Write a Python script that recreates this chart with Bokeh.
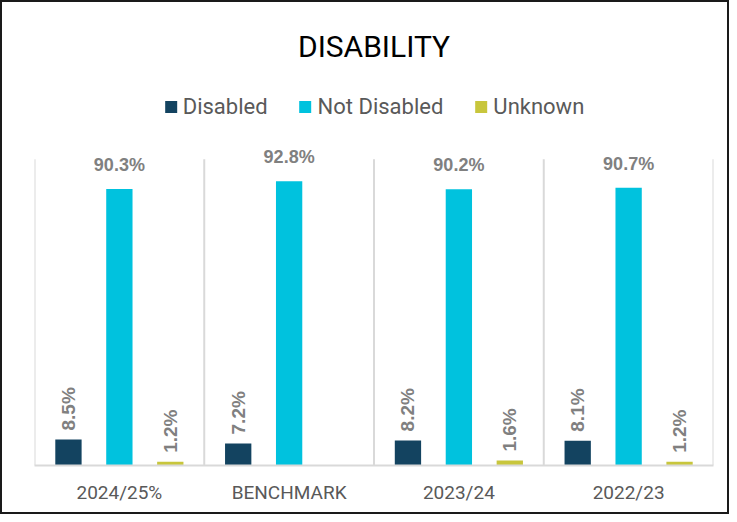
from bokeh.plotting import figure
from bokeh.models import ColumnDataSource, Legend, LegendItem, Range1d, FixedTicker
from bokeh.core.properties import value
from bokeh.embed import file_html
from bokeh.resources import INLINE
import math

categories = ["2024/25%", "BENCHMARK", "2023/24", "2022/23"]
disabled = [8.5, 7.2, 8.2, 8.1]
not_disabled = [90.3, 92.8, 90.2, 90.7]
unknown = [1.2, None, 1.6, 1.2]

series_names = ["Disabled", "Not Disabled", "Unknown"]
series_values = [disabled, not_disabled, unknown]
colors = ["#134360", "#00C2DE", "#C8C63C"]
offsets = [-0.3, 0.0, 0.3]

p = figure(width=729, height=514, output_backend="svg", toolbar_location=None,
           x_range=Range1d(0, len(categories)), y_range=Range1d(0, 129),
           min_border_left=32, min_border_right=18, min_border_bottom=51, min_border_top=68)
p.outline_line_color = None
p.styles = {"border": "2px solid #1a1a1a"}

p.title.text = "DISABILITY"
p.title.align = "center"
p.title.text_font = "Roboto"
p.title.text_font_style = "normal"
p.title.text_font_size = "30px"
p.title.text_color = "#000000"
p.title.standoff = 14

# vertical separators between categories
nb = len(categories) + 1
p.segment(x0=list(range(nb)), y0=[0] * nb, x1=list(range(nb)), y1=[100] * nb,
          line_color="#D9D9D9", line_width=2)

renderers = []
for name, vals, col, off in zip(series_names, series_values, colors, offsets):
    xs = [i + 0.5 + off for i, v in enumerate(vals) if v is not None]
    ys = [v for v in vals if v is not None]
    src = ColumnDataSource(dict(x=xs, top=ys))
    r = p.vbar(x="x", top="top", bottom=0, width=0.155, source=src,
               fill_color=col, line_color=None)
    renderers.append(r)
    big = ColumnDataSource(dict(x=[x for x, y in zip(xs, ys) if y >= 50],
                                y=[y for y in ys if y >= 50],
                                lab=[f"{y:.1f}%" for y in ys if y >= 50]))
    small = ColumnDataSource(dict(x=[x for x, y in zip(xs, ys) if y < 50],
                                  y=[y for y in ys if y < 50],
                                  lab=[f"{y:.1f}%" for y in ys if y < 50]))
    p.text(x="x", y="y", text="lab", source=big, text_align="center",
           text_baseline="bottom", y_offset=-14, text_font=value("Liberation Sans"),
           text_font_style="bold", text_font_size="18px", text_color="#808080")
    p.text(x="x", y="y", text="lab", source=small, text_align="left",
           text_baseline="middle", y_offset=-9, angle=math.pi / 2,
           text_font=value("Liberation Sans"), text_font_style="bold",
           text_font_size="19px", text_color="#808080")

legend = Legend(items=[LegendItem(label=n, renderers=[r]) for n, r in zip(series_names, renderers)],
                orientation="horizontal", location="top_center",
                label_text_font="Roboto", label_text_font_size="22px",
                label_text_color="#595959", glyph_width=15, glyph_height=15,
                spacing=30, label_standoff=5, border_line_color=None,
                background_fill_alpha=0, margin=24, padding=5)
p.add_layout(legend)

p.yaxis.visible = False
p.ygrid.visible = False
p.xgrid.visible = False
p.xaxis.ticker = FixedTicker(ticks=[i + 0.5 for i in range(len(categories))])
p.xaxis.major_label_overrides = {i + 0.5: c for i, c in enumerate(categories)}
p.xaxis.major_tick_line_color = None
p.xaxis.minor_tick_line_color = None
p.xaxis.axis_line_color = "#D9D9D9"
p.xaxis.axis_line_width = 2
p.xaxis.major_label_text_font = "Roboto"
p.xaxis.major_label_text_font_size = "19px"
p.xaxis.major_label_text_color = "#595959"
p.xaxis.major_label_standoff = 9

open("out.html", "w").write(file_html(p, INLINE))
